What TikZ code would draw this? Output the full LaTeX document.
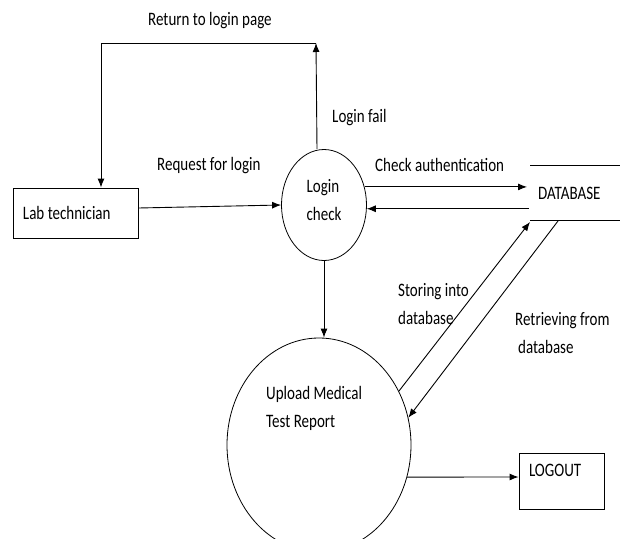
\documentclass[tikz,border=0pt]{standalone}
\usepackage{fontspec}
\usetikzlibrary{shapes.geometric,arrows.meta}
\newfontfamily\dfdfont[FakeStretch=0.79]{Carlito}
\newcommand{\dfdtext}{\dfdfont\fontsize{19}{28}\selectfont}
\tikzset{
  every node/.style={font=\dfdtext},
  proc/.style={draw, ellipse, line width=0.8pt, inner sep=0pt},
  ent/.style={draw, rectangle, line width=0.9pt, inner xsep=10pt},
  flow/.style={-{Latex[length=9pt,width=7pt]}, line width=0.9pt},
  lbl/.style={inner sep=0pt, anchor=base west, align=left},
}
\begin{document}
\begin{tikzpicture}[x=1pt,y=-1pt]
  \useasboundingbox (0,0) rectangle (625,539);
  \clip (0,0) rectangle (625,539);
  % processes and entities
  \node[ent, minimum height=50pt] (lab) at (75.5,213) {\makebox[105pt][l]{Lab technician}};
  \node[proc, minimum width=85pt, minimum height=111pt, align=left, text depth=10pt] (login) at (324,205) {Login\\check};
  \node[proc, minimum width=184pt, minimum height=214pt] (upload) at (319,445) {};
  \node[ent, minimum height=56pt, text depth=22pt] (logout) at (561.5,481) {\makebox[65pt][l]{LOGOUT}};
  % data store
  \coordinate (dbtl) at (530,165);
  \coordinate (dbtr) at (620,165);
  \coordinate (dbbl) at (530,220);
  \coordinate (dbbr) at (620,220);
  \draw[line width=0.9pt] (dbtl) -- (dbtr);
  \draw[line width=0.9pt] (dbbl) -- (dbbr);
  \node[lbl] (db) at (538,199) {DATABASE};
  % flows
  \coordinate (ret) at (316,43);
  \coordinate (lt) at (101,43);
  \coordinate (dbin) at (527,187);
  \coordinate (dbout) at (529,209);
  \coordinate (dbst) at (530,222);
  \coordinate (dbrt) at (558,221);
  \draw[flow] ([yshift=5pt]lab.east) -- (login.west);
  \draw[flow] ([xshift=-7pt]login.north) -- (ret);
  \draw[flow] (ret) -- (lt) -- (lt |- lab.north);
  \draw[flow] (login.24) -- (login.24 -| dbin);
  \draw[flow] (login.-5 -| dbout) -- (login.-5);
  \draw[flow] (login.south) -- (login.south |- upload.north);
  \draw[flow] (upload.34) -- (dbst);
  \draw[flow] (dbrt) -- (upload.17);
  \draw[flow] (upload.-20) -- ([yshift=4pt]logout.west);
  % labels
  \node[lbl] (retlbl) at (148,25) {Return to login page};
  \node[lbl] (faillbl) at (332,122) {Login fail};
  \node[lbl] (reqlbl) at (157,170) {Request for login};
  \node[lbl] (authlbl) at (375,171) {Check authentication};
  \node[lbl] (storelbl) at (398,324) {Storing into\\database};
  \node[lbl] (retrlbl) at (515,353) {Retrieving from\\\hspace*{3pt}database};
  \node[lbl] (uplbl) at (266,427) {Upload Medical\\Test Report};
\end{tikzpicture}
\end{document}
